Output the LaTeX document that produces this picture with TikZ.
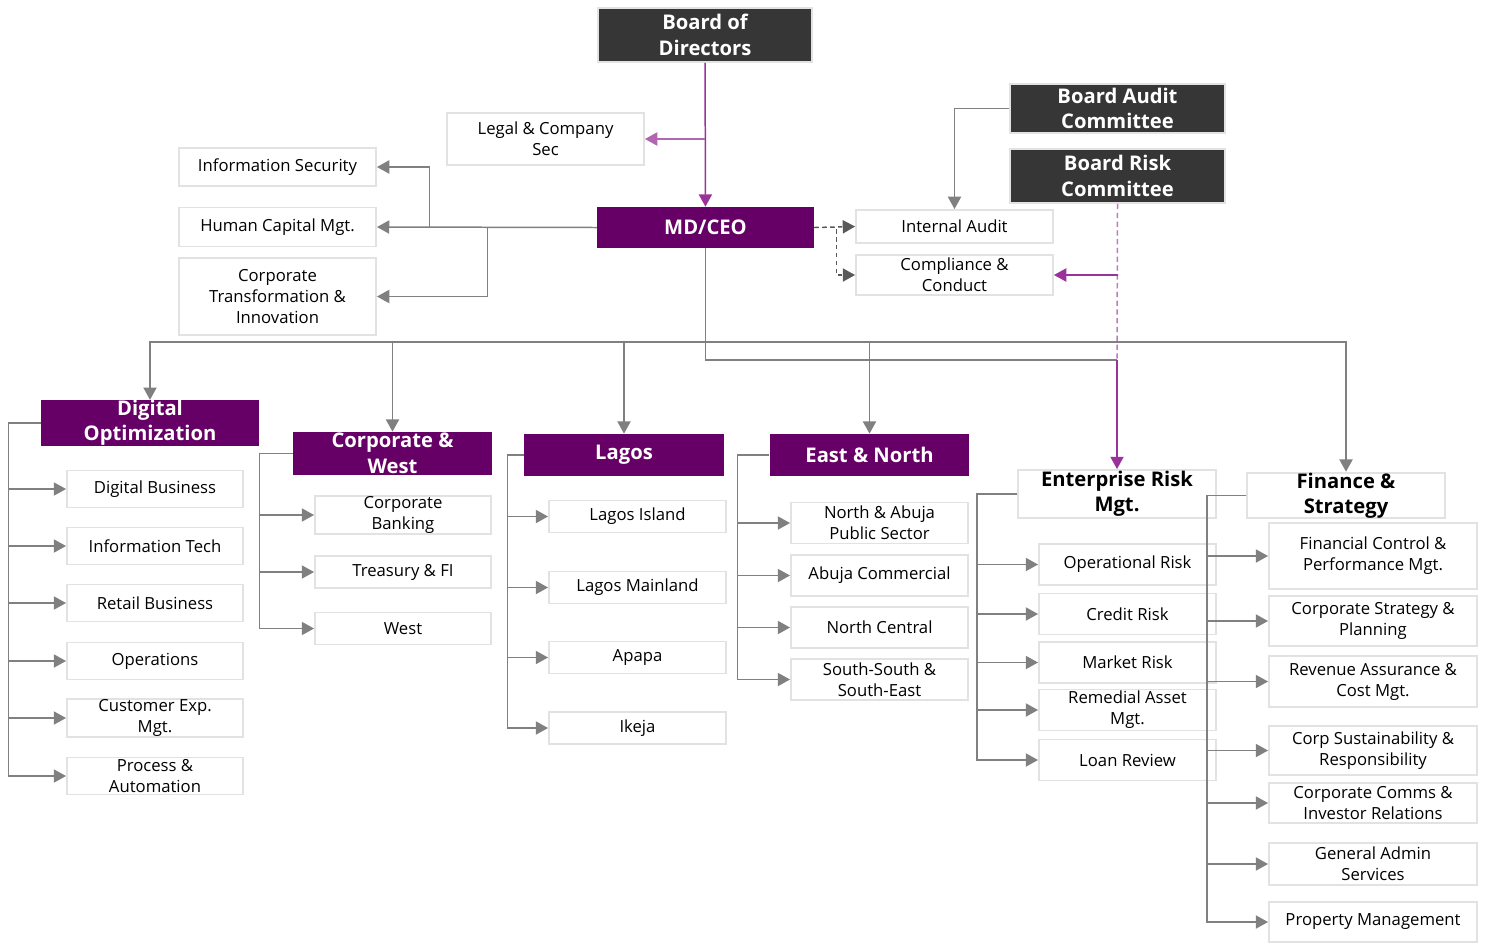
\documentclass[tikz,border=0pt]{standalone}
\usepackage{fontspec}
\setmainfont{Open Sans}
\usetikzlibrary{arrows.meta}

\definecolor{orgpurple}{HTML}{660066}
\definecolor{orgdark}{HTML}{363636}
\definecolor{orgline}{HTML}{808080}
\definecolor{orgedge}{HTML}{E2E2E2}
\definecolor{orglink}{HTML}{993399}

\tikzset{
  boxsize/.style 2 args={minimum width=#1, minimum height=#2},
  unit/.style={draw=orgedge, line width=1.1pt, fill=white, inner sep=0pt, align=center,
    font=\fontsize{9.5}{12}\selectfont},
  board/.style={unit, fill=orgdark, text=white, font=\fontsize{11.5}{14.5}\selectfont\bfseries},
  division/.style={fill=orgpurple, text=white, inner sep=0pt, align=center,
    font=\fontsize{11.5}{14.5}\selectfont\bfseries},
  group/.style={unit, font=\fontsize{11.5}{14.5}\selectfont\bfseries},
  wire/.style={draw=orgline, line width=0.85pt},
  link/.style={wire, -{Triangle[length=7pt,width=7.5pt]}},
  boardlink/.style={link, draw=orglink},
  dotlink/.style={link, draw=black!65, dash pattern=on 2.5pt off 2pt}
}

\begin{document}
\begin{tikzpicture}[x=0.02cm, y=-0.02cm]
  \useasboundingbox (0,0) rectangle (1487,944);

  \node[board, boxsize={4.28cm}{1.08cm}] (bod) at (705,35) {Board of\\Directors};
  \node[unit, boxsize={3.94cm}{1.04cm}] (legal) at (545.5,139) {Legal \& Company\\Sec};
  \node[unit, boxsize={3.94cm}{0.76cm}] (infosec) at (277.5,167) {Information Security};
  \node[unit, boxsize={3.94cm}{0.78cm}] (hcm) at (277.5,227) {Human Capital Mgt.};
  \node[unit, boxsize={3.94cm}{1.54cm}] (cti) at (277.5,296.5) {Corporate\\Transformation \&\\Innovation};
  \node[division, boxsize={4.34cm}{0.82cm}] (ceo) at (705.5,227.5) {MD/CEO};
  \node[board, boxsize={4.3cm}{0.98cm}] (bac) at (1117.5,108.5) {Board Audit\\Committee};
  \node[board, boxsize={4.3cm}{1.08cm}] (brc) at (1117.5,176) {Board Risk\\Committee};
  \node[unit, boxsize={3.94cm}{0.66cm}] (audit) at (954.5,226.5) {Internal Audit};
  \node[unit, boxsize={3.94cm}{0.8cm}] (compliance) at (954.5,275) {Compliance \&\\Conduct};

  \node[division, boxsize={4.36cm}{0.84cm}] (digital) at (150,423) {Digital\\Optimization};
  \node[division, boxsize={3.98cm}{0.86cm}] (corpwest) at (392.5,453.5) {Corporate \&\\West};
  \node[division, boxsize={4cm}{0.84cm}] (lagos) at (624,455) {Lagos};
  \node[division, boxsize={4cm}{0.84cm}] (eastnorth) at (869.5,455) {East \& North};
  \node[group, boxsize={3.96cm}{0.96cm}] (erm) at (1117,494) {Enterprise Risk\\Mgt.};
  \node[group, boxsize={3.96cm}{0.82cm}] (finance) at (1346,495.5) {Finance \&\\Strategy};

  \node[unit, boxsize={3.52cm}{0.74cm}] (digbiz) at (155,489) {Digital Business};
  \node[unit, boxsize={3.52cm}{0.74cm}] (infotech) at (155,546) {Information Tech};
  \node[unit, boxsize={3.52cm}{0.74cm}] (retail) at (155,603) {Retail Business};
  \node[unit, boxsize={3.52cm}{0.74cm}] (operations) at (155,661) {Operations};
  \node[unit, boxsize={3.52cm}{0.74cm}] (custexp) at (155,718) {Customer Exp.\\Mgt.};
  \node[unit, boxsize={3.52cm}{0.74cm}] (process) at (155,776) {Process \&\\Automation};

  \node[unit, boxsize={3.52cm}{0.64cm}] (corpbank) at (403,515) {Corporate\\Banking};
  \node[unit, boxsize={3.52cm}{0.64cm}] (treasury) at (403,572) {Treasury \& FI};
  \node[unit, boxsize={3.52cm}{0.64cm}] (west) at (403,628.5) {West};

  \node[unit, boxsize={3.54cm}{0.64cm}] (island) at (637.5,516.5) {Lagos Island};
  \node[unit, boxsize={3.54cm}{0.64cm}] (mainland) at (637.5,587.5) {Lagos Mainland};
  \node[unit, boxsize={3.54cm}{0.64cm}] (apapa) at (637.5,657.5) {Apapa};
  \node[unit, boxsize={3.54cm}{0.64cm}] (ikeja) at (637.5,728) {Ikeja};

  \node[unit, boxsize={3.54cm}{0.82cm}] (abuja) at (879.5,523) {North \& Abuja\\Public Sector};
  \node[unit, boxsize={3.54cm}{0.82cm}] (abujacom) at (879.5,575.5) {Abuja Commercial};
  \node[unit, boxsize={3.54cm}{0.82cm}] (central) at (879.5,627.5) {North Central};
  \node[unit, boxsize={3.54cm}{0.82cm}] (southsouth) at (879.5,679.5) {South-South \&\\South-East};

  \node[unit, boxsize={3.54cm}{0.82cm}] (oprisk) at (1127.5,564.5) {Operational Risk};
  \node[unit, boxsize={3.54cm}{0.82cm}] (credit) at (1127.5,614) {Credit Risk};
  \node[unit, boxsize={3.54cm}{0.82cm}] (market) at (1127.5,662.5) {Market Risk};
  \node[unit, boxsize={3.54cm}{0.82cm}] (remedial) at (1127.5,710) {Remedial Asset\\Mgt.};
  \node[unit, boxsize={3.54cm}{0.82cm}] (loan) at (1127.5,760) {Loan Review};

  \node[unit, boxsize={4.16cm}{1.32cm}] (fincontrol) at (1373,556) {Financial Control \&\\Performance Mgt.};
  \node[unit, boxsize={4.16cm}{1cm}] (strategy) at (1373,621) {Corporate Strategy \&\\Planning};
  \node[unit, boxsize={4.16cm}{1.02cm}] (revenue) at (1373,681.5) {Revenue Assurance \&\\Cost Mgt.};
  \node[unit, boxsize={4.16cm}{0.98cm}] (sustain) at (1373,750.5) {Corp Sustainability \&\\Responsibility};
  \node[unit, boxsize={4.16cm}{0.8cm}] (comms) at (1373,803) {Corporate Comms \&\\Investor Relations};
  \node[unit, boxsize={4.16cm}{0.84cm}] (admin) at (1373,864) {General Admin\\Services};
  \node[unit, boxsize={4.16cm}{0.8cm}] (property) at (1373,922) {Property Management};

  \coordinate (legaljoin) at (bod.south |- legal.east);
  \coordinate (riskjoin) at (brc.south |- compliance.east);
  \coordinate (bus) at (705.5,342);
  \coordinate (ermjoin) at (1117,360);

  \draw[boardlink] (bod) -- (ceo);
  \draw[boardlink, draw=orglink!75] (legaljoin) -- (legal.east);
  \draw[link] (ceo.west) -- ++(-167,0) |- (infosec.east);
  \draw[link] (ceo.west) -- (hcm.east);
  \draw[link] (ceo.west) -- ++(-109,0) |- (cti.east);
  \draw[dotlink] (ceo.east) -- (audit.west);
  \draw[dotlink] (ceo.east) -- ++(22,0) |- (compliance.west);
  \draw[link] (bac.west) -| (audit.north);
  \draw[wire, draw=orglink!65, dash pattern=on 3pt off 2pt] (brc.south) -- (ermjoin);
  \draw[boardlink] (riskjoin) -- (compliance.east);

  \draw[wire] (ceo.south) -- (bus);
  \draw[link] (bus) -| (digital.north);
  \draw[link] (bus) -| (corpwest.north);
  \draw[link] (bus) -| (lagos.north);
  \draw[link] (bus) -| (eastnorth.north);
  \draw[link] (bus) -| (finance.north);
  \draw[wire] (bus) |- (ermjoin);
  \draw[boardlink] (ermjoin) -- (erm.north);

  \foreach \c in {digbiz,infotech,retail,operations,custexp,process}
    \draw[link] (digital.west) -- ++(-32,0) |- (\c.west);
  \foreach \c in {corpbank,treasury,west}
    \draw[link] (corpwest.west) -- ++(-33,0) |- (\c.west);
  \foreach \c in {island,mainland,apapa,ikeja}
    \draw[link] (lagos.west) -- ++(-16,0) |- (\c.west);
  \foreach \c in {abuja,abujacom,central,southsouth}
    \draw[link] (eastnorth.west) -- ++(-31.5,0) |- (\c.west);
  \foreach \c in {oprisk,credit,market,remedial,loan}
    \draw[link] (erm.west) -- ++(-40,0) |- (\c.west);
  \foreach \c in {fincontrol,strategy,revenue,sustain,comms,admin,property}
    \draw[link] (finance.west) -- ++(-39,0) |- (\c.west);
\end{tikzpicture}
\end{document}
